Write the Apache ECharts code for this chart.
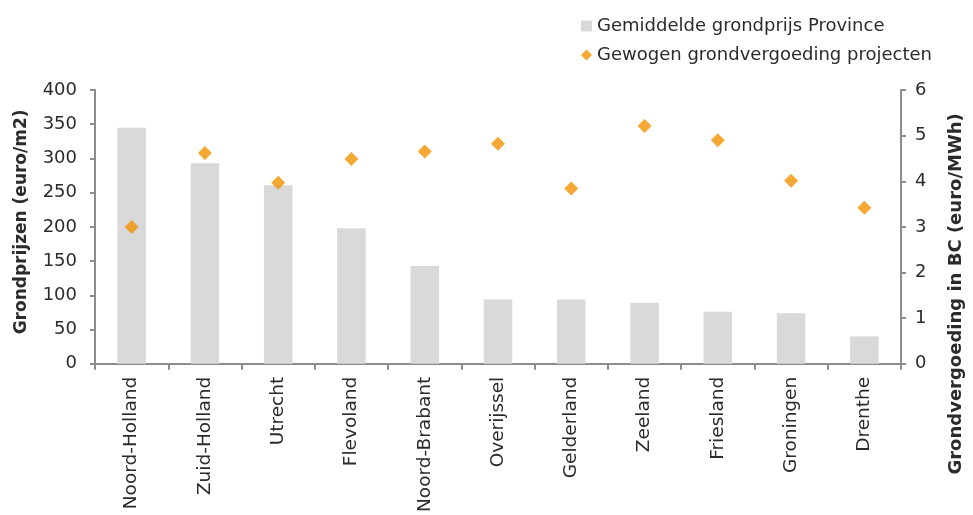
<!DOCTYPE html>
<html>
<head>
<meta charset="utf-8">
<script src="https://cdn.jsdelivr.net/npm/echarts@6/dist/echarts.min.js"></script>
<style>
  html, body { margin: 0; padding: 0; background: #fff; }
  #chart { width: 973px; height: 515px; }
</style>
</head>
<body>
<div id="chart"></div>
<script>
var provinces = ['Noord-Holland', 'Zuid-Holland', 'Utrecht', 'Flevoland', 'Noord-Brabant',
    'Overijssel', 'Gelderland', 'Zeeland', 'Friesland', 'Groningen', 'Drenthe'];
var grondprijs = [345, 293, 261, 198, 143, 94, 94, 89, 76, 74, 40];
var vergoeding = [3.0, 4.62, 3.97, 4.49, 4.65, 4.82, 3.84, 5.21, 4.90, 4.01, 3.42];

var font = '"DejaVu Sans", sans-serif';
var axisGrey = '#8c8c8c';
var textColor = '#2b2b2b';

var chart = echarts.init(document.getElementById('chart'));
var option = {
    animation: false,
    textStyle: {fontFamily: font},
    legend: {
        orient: 'vertical',
        left: 576,
        top: 12,
        itemGap: 11,
        itemWidth: 11,
        itemHeight: 11,
        textStyle: {fontSize: 18, color: textColor, fontFamily: font},
        data: [
            {name: 'Gemiddelde grondprijs Province', icon: 'rect'},
            {name: 'Gewogen grondvergoeding projecten', icon: 'diamond'}
        ]
    },
    grid: {left: 95, right: 60, top: 90, bottom: 150},
    xAxis: {
        type: 'category',
        data: provinces,
        axisLine: {lineStyle: {color: axisGrey, width: 2}},
        axisTick: {show: true, length: 6, lineStyle: {color: axisGrey, width: 2}},
        axisLabel: {rotate: 90, fontSize: 18.5, color: textColor, margin: 13, interval: 0, fontFamily: font}
    },
    yAxis: [{
        type: 'value',
        min: 0, max: 400, interval: 50,
        name: 'Grondprijzen (euro/m2)',
        nameLocation: 'middle',
        nameRotate: 90,
        nameGap: 65,
        nameTextStyle: {fontSize: 17, fontWeight: 'bold', color: textColor, fontFamily: font, padding: [0, 0, 0, 10]},
        axisLine: {show: true, lineStyle: {color: axisGrey, width: 2}},
        axisTick: {show: true, length: 5, lineStyle: {color: axisGrey, width: 2}},
        axisLabel: {fontSize: 18, color: textColor, margin: 18, fontFamily: font},
        splitLine: {show: false}
    }, {
        type: 'value',
        min: 0, max: 6, interval: 1,
        name: 'Grondvergoeding in BC (euro/MWh)',
        nameLocation: 'middle',
        nameRotate: 90,
        nameGap: 46,
        nameTextStyle: {fontSize: 18, fontWeight: 'bold', color: textColor, fontFamily: font, padding: [0, 134, 0, 0]},
        axisLine: {show: true, lineStyle: {color: axisGrey, width: 2}},
        axisTick: {show: true, length: 5, lineStyle: {color: axisGrey, width: 2}},
        axisLabel: {fontSize: 18, color: textColor, margin: 14, fontFamily: font},
        splitLine: {show: false}
    }],
    series: [{
        name: 'Gemiddelde grondprijs Province',
        type: 'bar',
        yAxisIndex: 0,
        barWidth: '39%',
        itemStyle: {color: '#d9d9d9'},
        data: grondprijs
    }, {
        name: 'Gewogen grondvergoeding projecten',
        type: 'scatter',
        yAxisIndex: 1,
        symbol: 'diamond',
        symbolSize: 14,
        itemStyle: {color: '#f39200'},
        data: vergoeding
    }]
};
chart.setOption(option);
</script>
</body>
</html>
